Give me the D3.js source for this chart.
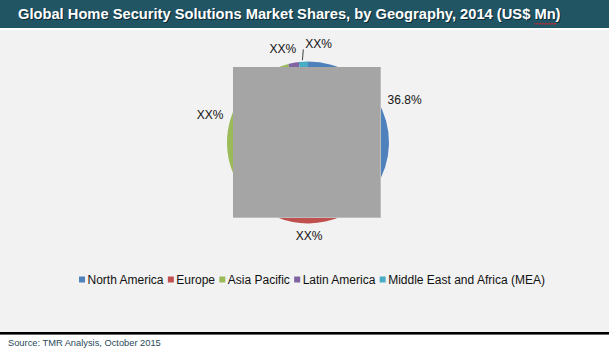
<!DOCTYPE html>
<html><head><meta charset="utf-8">
<script src="https://cdn.jsdelivr.net/npm/d3@7"></script>
<style>html,body{margin:0;padding:0;background:#fff;}svg{display:block;}</style>
</head><body>
<svg id="chart" width="609" height="351"></svg>
<script>
// ---- data ----
const title = "Global Home Security Solutions Market Shares, by Geography, 2014 (US$ Mn)";
const source = "Source: TMR Analysis, October 2015";
const categories = ["North America", "Europe", "Asia Pacific", "Latin America", "Middle East and Africa (MEA)"];
const shares = [36.8, 26.0, 33.3, 2.1, 1.8];
const sliceLabels = ["36.8%", "XX%", "XX%", "XX%", "XX%"];
const colors = ["#4F81BD", "#C0504D", "#9BBB59", "#8064A2", "#4BACC6"];

// ---- layout ----
const W = 609, H = 351;
const font = "'Liberation Sans', Arial, sans-serif";
const svg = d3.select("#chart");

// backgrounds
svg.append("rect").attr("x", 0).attr("y", 0).attr("width", W).attr("height", H).attr("fill", "#fff");
svg.append("rect").attr("x", 0).attr("y", 0).attr("width", W).attr("height", 28).attr("fill", "#215564");
svg.append("rect").attr("x", 0).attr("y", 30).attr("width", W).attr("height", 302).attr("fill", "#f2f2f2");
svg.append("rect").attr("x", 0).attr("y", 332).attr("width", W).attr("height", 2.6).attr("fill", "#000");

// title with shadow
const titleFs = 14.7;
svg.append("text").attr("x", 19).attr("y", 20).attr("font-family", font).attr("font-weight", "bold")
  .attr("font-size", titleFs).attr("fill", "#0b2a33").text(title);
const titleText = svg.append("text").attr("x", 18).attr("y", 19).attr("font-family", font).attr("font-weight", "bold")
  .attr("font-size", titleFs).attr("fill", "#fff").text(title);
// spell-check squiggle under "Mn"
{
  const idx = title.indexOf("Mn");
  const node = titleText.node();
  const x0 = 18 + node.getSubStringLength(0, idx);
  const x1 = x0 + node.getSubStringLength(idx, 2);
  let d = `M${x0},23`;
  for (let x = x0, k = 0; x < x1; x += 1.5, k++) d += `L${Math.min(x + 1.5, x1)},${k % 2 ? 23 : 24.5}`;
  svg.append("path").attr("d", d).attr("fill", "none").attr("stroke", "#e0202a").attr("stroke-width", 1);
}

// pie
const cx = 308, cy = 142.5, r = 81;
const pie = d3.pie().sort(null).value(d => d).startAngle(0).endAngle(2 * Math.PI);
const arcs = pie(shares);
const arc = d3.arc().innerRadius(0).outerRadius(r);
const g = svg.append("g").attr("transform", `translate(${cx},${cy})`);
g.selectAll("path.slice").data(arcs).join("path").attr("class", "slice")
  .attr("d", arc).attr("fill", (d, i) => colors[i]);

// occluding grey box
svg.append("rect").attr("x", 233).attr("y", 67).attr("width", 148).attr("height", 151).attr("fill", "#bdbdbd");
svg.append("rect").attr("x", 233).attr("y", 67).attr("width", 147).attr("height", 150).attr("fill", "#a5a5a5");

// data labels (outside end, Excel-like)
const labFs = 12, labH = 12, gap = 6.5, pad = 9;
const tmp = svg.append("text").attr("font-family", font).attr("font-size", labFs);
const labs = arcs.map((a, i) => {
  tmp.text(sliceLabels[i]);
  const w = tmp.node().getComputedTextLength();
  const mid = (a.startAngle + a.endAngle) / 2;
  const s = Math.sin(mid), c = Math.cos(mid);
  const dist = r + gap + (w / 2) * Math.abs(s) + (labH / 2) * Math.abs(c);
  return { i, w, mid, x: cx + dist * s, y: cy - dist * c, moved: false };
});
tmp.remove();
for (let k = 1; k < labs.length; k++) {
  const a = labs[k - 1], b = labs[k];
  const minSep = (a.w + b.w) / 2 + pad;
  if (Math.abs(b.y - a.y) < labH && Math.abs(b.x - a.x) < minSep) {
    const need = minSep - (b.x - a.x);
    a.x -= need / 3;
    b.x += need * 2 / 3;
    b.y -= labH / 2 - 1;
    b.moved = true;
  }
}
labs.filter(l => l.moved).forEach(l => {
  const px = cx + r * Math.sin(l.mid), py = cy - r * Math.cos(l.mid) - 1.5;
  svg.append("line").attr("x1", px - 1).attr("y1", py).attr("x2", l.x - l.w / 2 - 2).attr("y2", l.y + labH / 2)
    .attr("stroke", "#404040").attr("stroke-width", 1);
});
svg.selectAll("text.lab").data(labs).join("text").attr("class", "lab")
  .attr("x", d => d.x).attr("y", d => d.y).attr("dy", "0.36em")
  .attr("text-anchor", "middle").attr("font-family", font).attr("font-size", labFs).attr("fill", "#111")
  .text(d => sliceLabels[d.i]);

// legend
const leg = svg.append("g");
let lx = 79;
const ly = 279.5;
categories.forEach((c, i) => {
  leg.append("rect").attr("x", lx).attr("y", ly - 3).attr("width", 6).attr("height", 6).attr("fill", colors[i]);
  const t = leg.append("text").attr("x", lx + 8.5).attr("y", ly).attr("dy", "0.36em")
    .attr("font-family", font).attr("font-size", 12).attr("fill", "#111").text(c);
  lx += 8.5 + t.node().getComputedTextLength() + 4.3;
});

// source
svg.append("text").attr("x", 8).attr("y", 346).attr("font-family", font).attr("font-size", 9.3)
  .attr("fill", "#2a4a5a").text(source);
</script>
</body></html>
